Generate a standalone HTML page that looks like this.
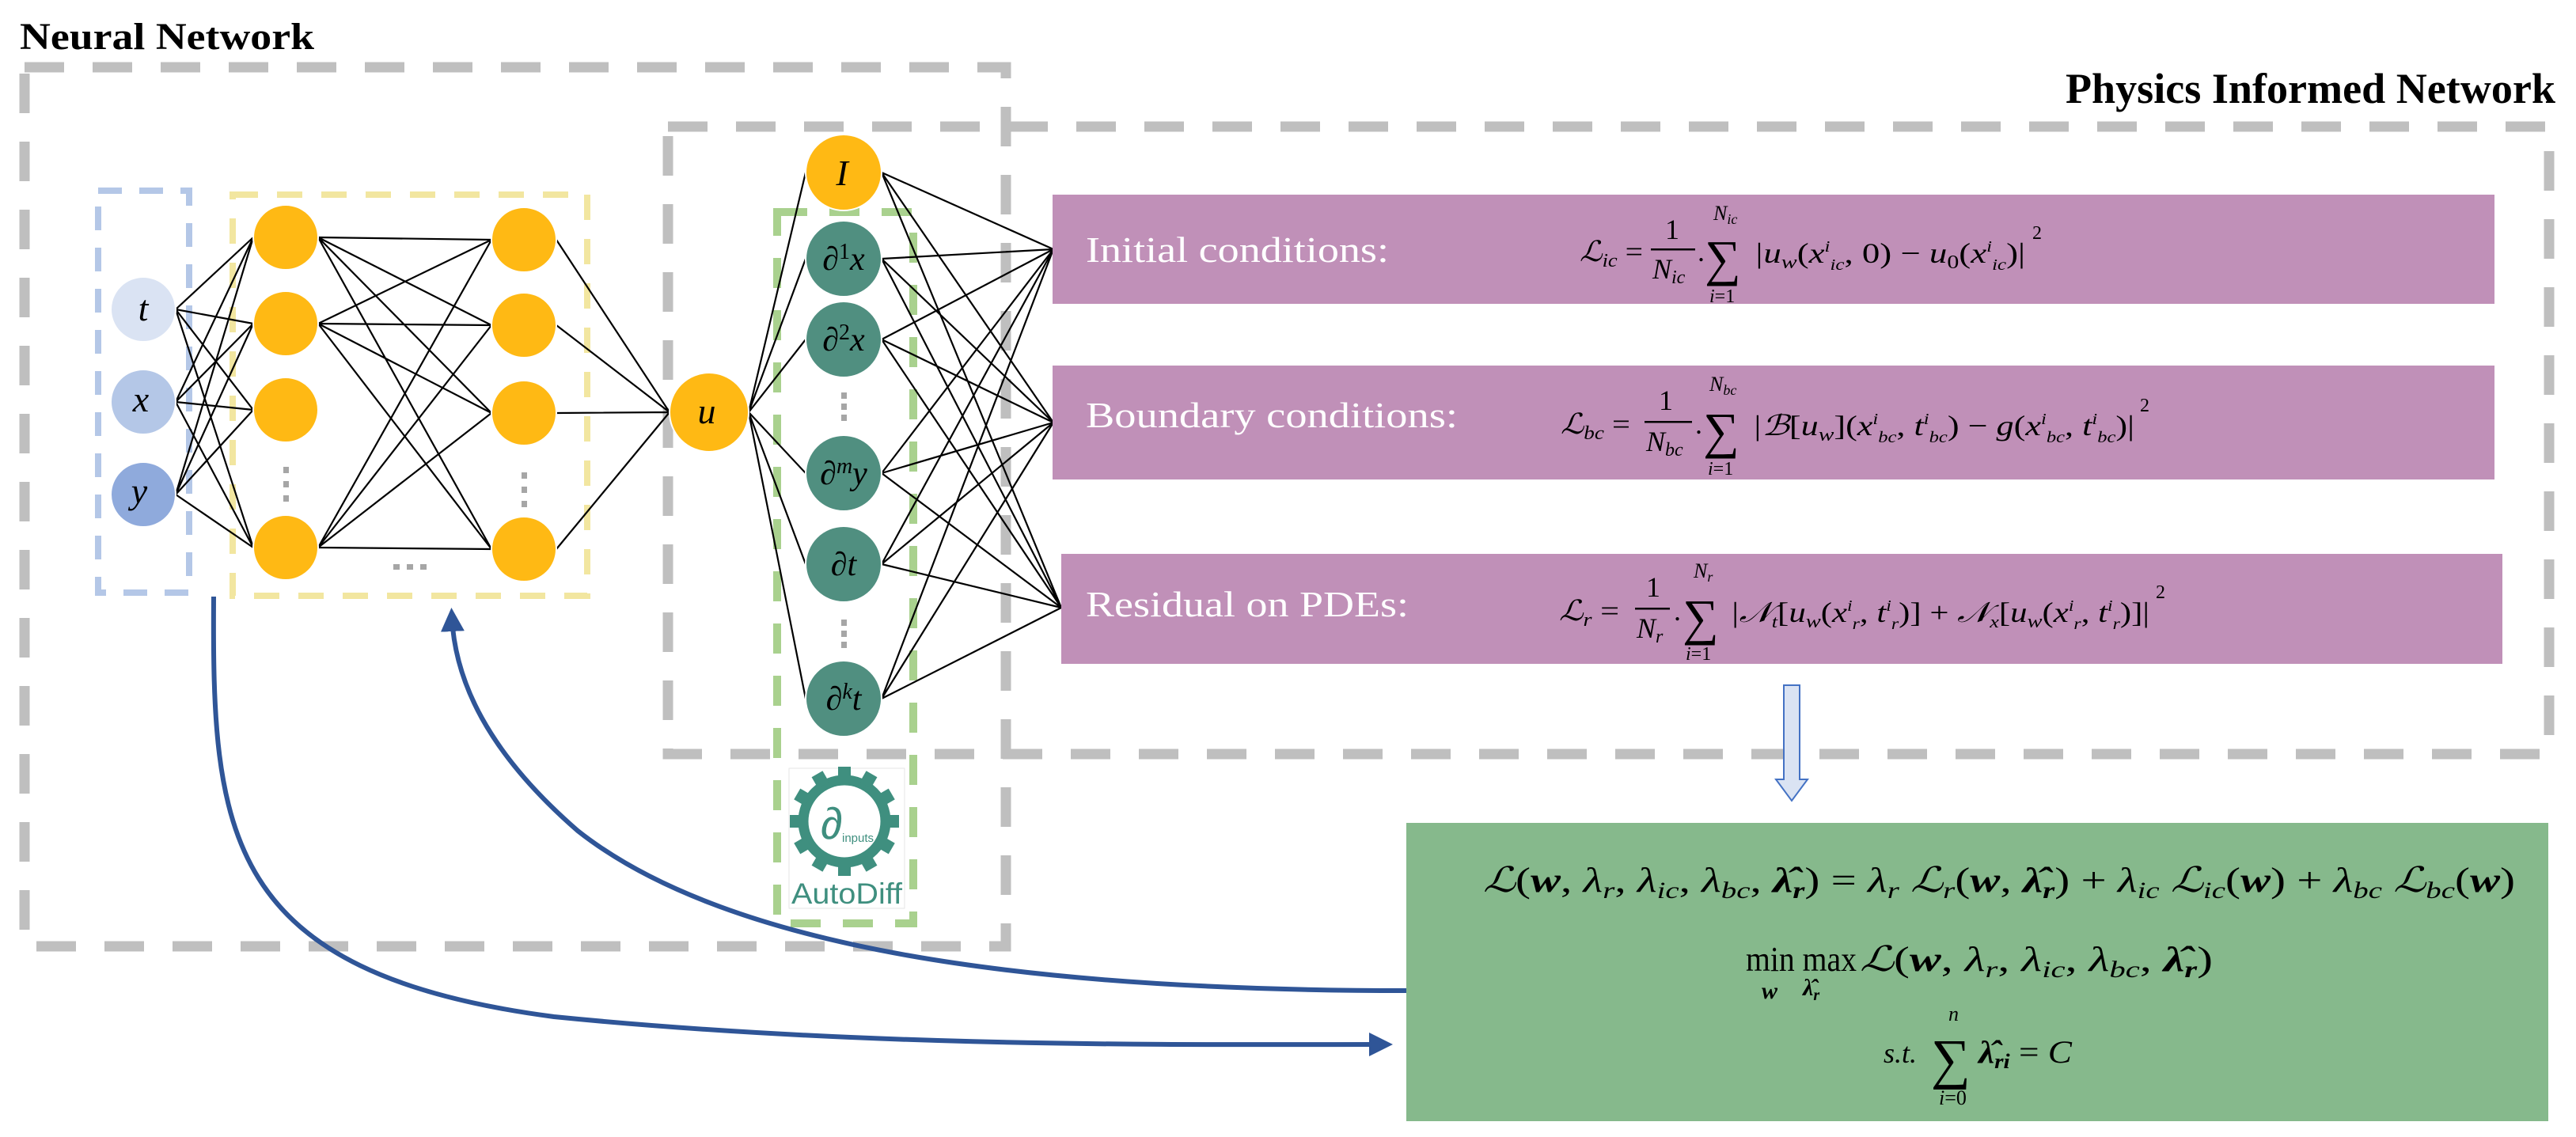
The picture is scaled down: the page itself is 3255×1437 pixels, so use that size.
<!DOCTYPE html>
<html><head><meta charset="utf-8"><style>
html,body{margin:0;padding:0;background:#fff;}
svg{display:block;}
.m{font-family:"Liberation Serif","DejaVu Serif",serif;font-style:italic;fill:#000;}
.r{font-family:"Liberation Serif","DejaVu Serif",serif;fill:#000;}
.lab{font-family:"Liberation Serif",serif;fill:#fff;}
</style></head><body>
<svg width="3255" height="1437" viewBox="0 0 3255 1437" xmlns="http://www.w3.org/2000/svg">
<defs>
<marker id="ah" markerWidth="6" markerHeight="6" refX="3" refY="3" orient="auto" markerUnits="strokeWidth">
<path d="M0,0.5 L5,3 L0,5.5 z" fill="#2f5597"/></marker>
</defs>
<text x="25" y="62" font-family="Liberation Serif" font-weight="bold" font-size="48" textLength="372" lengthAdjust="spacingAndGlyphs">Neural Network</text>
<text x="2610" y="130" font-family="Liberation Serif" font-weight="bold" font-size="54" textLength="619" lengthAdjust="spacingAndGlyphs">Physics Informed Network</text>

<rect x="31" y="85" width="1240" height="1111" fill="none" stroke="#bfbfbf" stroke-width="13" stroke-dasharray="50 36"/>
<rect x="844" y="160" width="2377" height="793" fill="none" stroke="#bfbfbf" stroke-width="13" stroke-dasharray="50 36"/>
<rect x="124" y="241" width="115" height="508" fill="none" stroke="#b4c7e7" stroke-width="8" stroke-dasharray="30 22"/>
<rect x="294" y="246" width="448" height="507" fill="none" stroke="#f2e6a0" stroke-width="8" stroke-dasharray="32 24"/>
<rect x="982" y="268" width="172" height="899" fill="none" stroke="#a9d18e" stroke-width="10" stroke-dasharray="38 28"/>

<g stroke="#000" stroke-width="2.2" fill="none">
<path d="M222,391L320,300M222,391L320,409M222,391L320,518M222,391L320,692
M222,508L320,300M222,508L320,409M222,508L320,518M222,508L320,692
M222,625L320,300M222,625L320,409M222,625L320,518M222,625L320,692"/>
<path d="M402,300L621,303M402,300L621,411M402,300L621,522M402,300L621,694
M402,409L621,303M402,409L621,411M402,409L621,522M402,409L621,694
M402,692L621,303M402,692L621,411M402,692L621,522M402,692L621,694"/>
<path d="M703,303L846,521M703,411L846,521M703,522L846,521M703,694L846,521"/>
<path d="M946,521L1018,218M946,521L1018,327M946,521L1018,429M946,521L1018,598M946,521L1018,713M946,521L1018,883"/>
<path d="M1114,218L1331,315M1114,218L1331,534M1114,218L1341,768
M1114,327L1331,315M1114,327L1331,534M1114,327L1341,768
M1114,429L1331,315M1114,429L1331,534M1114,429L1341,768
M1114,598L1331,315M1114,598L1331,534M1114,598L1341,768
M1114,713L1331,315M1114,713L1331,534M1114,713L1341,768
M1114,883L1331,315M1114,883L1331,534M1114,883L1341,768"/>
</g>

<g stroke="#fff" stroke-width="2">
<circle cx="181" cy="391" r="41" fill="#dae3f3"/>
<circle cx="181" cy="508" r="41" fill="#b4c7e7"/>
<circle cx="181" cy="625" r="41" fill="#8faadc"/>
<circle cx="361" cy="300" r="41" fill="#ffb914"/>
<circle cx="361" cy="409" r="41" fill="#ffb914"/>
<circle cx="361" cy="518" r="41" fill="#ffb914"/>
<circle cx="361" cy="692" r="41" fill="#ffb914"/>
<circle cx="662" cy="303" r="41" fill="#ffb914"/>
<circle cx="662" cy="411" r="41" fill="#ffb914"/>
<circle cx="662" cy="522" r="41" fill="#ffb914"/>
<circle cx="662" cy="694" r="41" fill="#ffb914"/>
<circle cx="896" cy="521" r="50" fill="#ffb914"/>
<circle cx="1066" cy="218" r="48" fill="#ffb914"/>
<circle cx="1066" cy="327" r="48" fill="#508f80"/>
<circle cx="1066" cy="429" r="48" fill="#508f80"/>
<circle cx="1066" cy="598" r="48" fill="#508f80"/>
<circle cx="1066" cy="713" r="48" fill="#508f80"/>
<circle cx="1066" cy="883" r="48" fill="#508f80"/>
</g>
<g fill="#a6a6a6">
<rect x="358" y="590" width="7" height="8"/><rect x="358" y="608" width="7" height="8"/><rect x="358" y="626" width="7" height="8"/>
<rect x="659" y="597" width="7" height="8"/><rect x="659" y="615" width="7" height="8"/><rect x="659" y="633" width="7" height="8"/>
<rect x="497" y="713" width="8" height="7"/><rect x="514" y="713" width="8" height="7"/><rect x="531" y="713" width="8" height="7"/>
<rect x="1063" y="496" width="7" height="8"/><rect x="1063" y="510" width="7" height="8"/><rect x="1063" y="524" width="7" height="8"/>
<rect x="1063" y="783" width="7" height="8"/><rect x="1063" y="797" width="7" height="8"/><rect x="1063" y="811" width="7" height="8"/>
</g>
<g class="m" font-size="46" text-anchor="middle">
<text x="181" y="405">t</text>
<text x="178" y="520">x</text>
<text x="176" y="636">y</text>
<text x="893" y="535">u</text>
<text x="1064" y="234">I</text>
</g>
<g class="m" font-size="42" text-anchor="middle">
<text x="1066" y="341">∂<tspan font-size="28" font-style="normal" dy="-14">1</tspan><tspan dy="14">x</tspan></text>
<text x="1066" y="443">∂<tspan font-size="28" font-style="normal" dy="-14">2</tspan><tspan dy="14">x</tspan></text>
<text x="1066" y="612">∂<tspan font-size="28" dy="-14">m</tspan><tspan dy="14">y</tspan></text>
<text x="1066" y="727">∂t</text>
<text x="1066" y="897">∂<tspan font-size="28" dy="-14">k</tspan><tspan dy="14">t</tspan></text>
</g>

<rect x="997" y="971" width="146" height="177" fill="#fff" stroke="#e6e6e6" stroke-width="1"/>
<g transform="translate(1067,1038)" fill="#3f8f7f">
<circle r="52" fill="none" stroke="#3f8f7f" stroke-width="13"/>
<rect x="-8" y="-69" width="16" height="16"/>
<rect x="-8" y="-69" width="16" height="16" transform="rotate(30)"/>
<rect x="-8" y="-69" width="16" height="16" transform="rotate(60)"/>
<rect x="-8" y="-69" width="16" height="16" transform="rotate(90)"/>
<rect x="-8" y="-69" width="16" height="16" transform="rotate(120)"/>
<rect x="-8" y="-69" width="16" height="16" transform="rotate(150)"/>
<rect x="-8" y="-69" width="16" height="16" transform="rotate(180)"/>
<rect x="-8" y="-69" width="16" height="16" transform="rotate(210)"/>
<rect x="-8" y="-69" width="16" height="16" transform="rotate(240)"/>
<rect x="-8" y="-69" width="16" height="16" transform="rotate(270)"/>
<rect x="-8" y="-69" width="16" height="16" transform="rotate(300)"/>
<rect x="-8" y="-69" width="16" height="16" transform="rotate(330)"/>
<text x="-30" y="22" font-family="Liberation Sans" font-size="56">∂</text>
<text x="-3" y="26" font-family="Liberation Sans" font-size="15">inputs</text>
</g>
<text x="1000" y="1142" font-family="Liberation Sans" font-size="37" fill="#3f8f7f" textLength="140" lengthAdjust="spacingAndGlyphs">AutoDiff</text>

<rect x="1330" y="246" width="1822" height="138" fill="#c090b8"/>
<rect x="1330" y="462" width="1822" height="144" fill="#c090b8"/>
<rect x="1341" y="700" width="1821" height="139" fill="#c090b8"/>
<text class="lab" x="1372" y="331" font-size="46" textLength="383" lengthAdjust="spacingAndGlyphs">Initial conditions:</text>
<text class="lab" x="1372" y="540" font-size="46" textLength="470" lengthAdjust="spacingAndGlyphs">Boundary conditions:</text>
<text class="lab" x="1372" y="779" font-size="46" textLength="408" lengthAdjust="spacingAndGlyphs">Residual on PDEs:</text>

<!-- formula 1 -->
<g font-size="36">
<text class="m" x="1996" y="330" textLength="80" lengthAdjust="spacingAndGlyphs">ℒ<tspan font-size="24" dy="7">ic</tspan><tspan dy="-7" font-style="normal"> =</tspan></text>
<text class="r" x="2104" y="302">1</text>
<rect x="2086" y="314" width="56" height="2.5" fill="#000"/>
<text class="m" x="2088" y="352">N<tspan font-size="24" dy="6">ic</tspan></text>
<text class="r" x="2145" y="330">.</text>
<text class="r" x="2154" y="348" font-size="64">∑</text>
<text class="m" x="2165" y="278" font-size="26">N<tspan font-size="18" dy="5">ic</tspan></text>
<text class="m" x="2160" y="382" font-size="24">i<tspan font-style="normal">=1</tspan></text>
<text class="m" x="2216" y="332" textLength="343" lengthAdjust="spacingAndGlyphs">|u<tspan font-size="24" dy="7">w</tspan><tspan dy="-7" font-style="normal">(</tspan>x<tspan font-size="20" dy="-14">i</tspan><tspan font-size="20" dy="23">ic</tspan><tspan dy="-9" font-style="normal">, 0) − </tspan>u<tspan font-size="24" dy="7" font-style="normal">0</tspan><tspan dy="-7" font-style="normal">(</tspan>x<tspan font-size="20" dy="-14">i</tspan><tspan font-size="20" dy="23">ic</tspan><tspan dy="-9" font-style="normal">)|</tspan></text>
<text class="r" x="2568" y="302" font-size="24">2</text>
</g>
<!-- formula 2 -->
<g font-size="36">
<text class="m" x="1972" y="548" textLength="88" lengthAdjust="spacingAndGlyphs">ℒ<tspan font-size="24" dy="7">bc</tspan><tspan dy="-7" font-style="normal"> =</tspan></text>
<text class="r" x="2096" y="518">1</text>
<rect x="2078" y="532" width="60" height="2.5" fill="#000"/>
<text class="m" x="2080" y="570">N<tspan font-size="24" dy="6">bc</tspan></text>
<text class="r" x="2142" y="548">.</text>
<text class="r" x="2152" y="566" font-size="64">∑</text>
<text class="m" x="2160" y="494" font-size="26">N<tspan font-size="18" dy="5">bc</tspan></text>
<text class="m" x="2158" y="600" font-size="24">i<tspan font-style="normal">=1</tspan></text>
<text class="m" x="2214" y="550" textLength="483" lengthAdjust="spacingAndGlyphs">|ℬ<tspan font-style="normal">[</tspan>u<tspan font-size="24" dy="7">w</tspan><tspan dy="-7" font-style="normal">](</tspan>x<tspan font-size="20" dy="-14">i</tspan><tspan font-size="20" dy="23">bc</tspan><tspan dy="-9" font-style="normal">, </tspan>t<tspan font-size="20" dy="-14">i</tspan><tspan font-size="20" dy="23">bc</tspan><tspan dy="-9" font-style="normal">) − </tspan>g<tspan font-style="normal">(</tspan>x<tspan font-size="20" dy="-14">i</tspan><tspan font-size="20" dy="23">bc</tspan><tspan dy="-9" font-style="normal">, </tspan>t<tspan font-size="20" dy="-14">i</tspan><tspan font-size="20" dy="23">bc</tspan><tspan dy="-9" font-style="normal">)|</tspan></text>
<text class="r" x="2704" y="520" font-size="24">2</text>
</g>
<!-- formula 3 -->
<g font-size="36">
<text class="m" x="1970" y="784" textLength="76" lengthAdjust="spacingAndGlyphs">ℒ<tspan font-size="24" dy="7">r</tspan><tspan dy="-7" font-style="normal"> =</tspan></text>
<text class="r" x="2080" y="754">1</text>
<rect x="2066" y="768" width="44" height="2.5" fill="#000"/>
<text class="m" x="2068" y="806">N<tspan font-size="24" dy="6">r</tspan></text>
<text class="r" x="2115" y="784">.</text>
<text class="r" x="2126" y="802" font-size="64">∑</text>
<text class="m" x="2140" y="730" font-size="26">N<tspan font-size="18" dy="5">r</tspan></text>
<text class="m" x="2130" y="834" font-size="24">i<tspan font-style="normal">=1</tspan></text>
<text class="m" x="2186" y="786" textLength="530" lengthAdjust="spacingAndGlyphs">|𝒩<tspan font-size="22" dy="7">t</tspan><tspan dy="-7" font-style="normal">[</tspan>u<tspan font-size="24" dy="7">w</tspan><tspan dy="-7" font-style="normal">(</tspan>x<tspan font-size="20" dy="-14">i</tspan><tspan font-size="20" dy="23">r</tspan><tspan dy="-9" font-style="normal">, </tspan>t<tspan font-size="20" dy="-14">i</tspan><tspan font-size="20" dy="23">r</tspan><tspan dy="-9" font-style="normal">)] + </tspan>𝒩<tspan font-size="22" dy="7">x</tspan><tspan dy="-7" font-style="normal">[</tspan>u<tspan font-size="24" dy="7">w</tspan><tspan dy="-7" font-style="normal">(</tspan>x<tspan font-size="20" dy="-14">i</tspan><tspan font-size="20" dy="23">r</tspan><tspan dy="-9" font-style="normal">, </tspan>t<tspan font-size="20" dy="-14">i</tspan><tspan font-size="20" dy="23">r</tspan><tspan dy="-9" font-style="normal">)]|</tspan></text>
<text class="r" x="2724" y="756" font-size="24">2</text>
</g>

<path d="M2254,866 L2274,866 L2274,985 L2284,985 L2264,1012 L2244,985 L2254,985 Z" fill="#dae3f3" stroke="#4472c4" stroke-width="2"/>

<rect x="1777" y="1040" width="1443" height="377" fill="#86b98c"/>
<text class="m" x="1874" y="1127" font-size="44" textLength="1304" lengthAdjust="spacingAndGlyphs">ℒ<tspan font-style="normal">(</tspan><tspan font-weight="bold">w</tspan><tspan font-style="normal">, </tspan>λ<tspan font-size="30" dy="8">r</tspan><tspan dy="-8" font-style="normal">, </tspan>λ<tspan font-size="30" dy="8">ic</tspan><tspan dy="-8" font-style="normal">, </tspan>λ<tspan font-size="30" dy="8">bc</tspan><tspan dy="-8" font-style="normal">, </tspan><tspan font-weight="bold">λ̂</tspan><tspan font-size="30" dy="8" font-weight="bold">r</tspan><tspan dy="-8" font-style="normal">) = </tspan>λ<tspan font-size="30" dy="8">r</tspan><tspan dy="-8"> ℒ</tspan><tspan font-size="30" dy="8">r</tspan><tspan dy="-8" font-style="normal">(</tspan><tspan font-weight="bold">w</tspan><tspan font-style="normal">, </tspan><tspan font-weight="bold">λ̂</tspan><tspan font-size="30" dy="8" font-weight="bold">r</tspan><tspan dy="-8" font-style="normal">) + </tspan>λ<tspan font-size="30" dy="8">ic</tspan><tspan dy="-8"> ℒ</tspan><tspan font-size="30" dy="8">ic</tspan><tspan dy="-8" font-style="normal">(</tspan><tspan font-weight="bold">w</tspan><tspan font-style="normal">) +  </tspan>λ<tspan font-size="30" dy="8">bc</tspan><tspan dy="-8"> ℒ</tspan><tspan font-size="30" dy="8">bc</tspan><tspan dy="-8" font-style="normal">(</tspan><tspan font-weight="bold">w</tspan><tspan font-style="normal">)</tspan></text>
<text class="r" x="2206" y="1227" font-size="44" textLength="140" lengthAdjust="spacingAndGlyphs">min max</text>
<text class="m" x="2226" y="1262" font-size="30" font-weight="bold">w</text>
<text class="m" x="2278" y="1258" font-size="30" font-weight="bold">λ̂<tspan font-size="20" dy="6">r</tspan></text>
<text class="m" x="2350" y="1227" font-size="44" textLength="446" lengthAdjust="spacingAndGlyphs">ℒ<tspan font-style="normal">(</tspan><tspan font-weight="bold">w</tspan><tspan font-style="normal">, </tspan>λ<tspan font-size="30" dy="8">r</tspan><tspan dy="-8" font-style="normal">, </tspan>λ<tspan font-size="30" dy="8">ic</tspan><tspan dy="-8" font-style="normal">, </tspan>λ<tspan font-size="30" dy="8">bc</tspan><tspan dy="-8" font-style="normal">, </tspan><tspan font-weight="bold">λ̂</tspan><tspan font-size="30" dy="8" font-weight="bold">r</tspan><tspan dy="-8" font-style="normal">)</tspan></text>
<text class="m" x="2380" y="1343" font-size="36">s.t.</text>
<text class="r" x="2440" y="1362" font-size="70">∑</text>
<text class="m" x="2462" y="1290" font-size="26">n</text>
<text class="m" x="2450" y="1396" font-size="26">i<tspan font-style="normal">=0</tspan></text>
<text class="m" x="2500" y="1343" font-size="40" textLength="118" lengthAdjust="spacingAndGlyphs"><tspan font-weight="bold">λ̂</tspan><tspan font-size="26" dy="7" font-weight="bold">ri</tspan><tspan dy="-7" font-style="normal"> = </tspan>C</text>

<g stroke="#2f5597" stroke-width="6" fill="none">
<path d="M270,754 C268,1050 280,1230 700,1285 C1100,1325 1500,1320 1748,1320" marker-end="url(#ah)"/>
<path d="M1777,1252 C1300,1252 920,1200 730,1050 C615,950 575,860 571,780" marker-end="url(#ah)"/>
</g>
</svg>
</body></html>
